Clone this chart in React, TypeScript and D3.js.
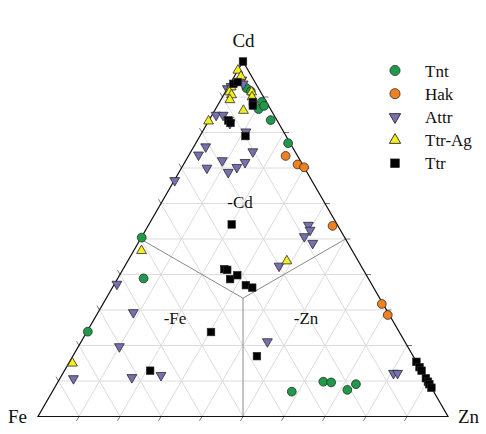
import React from "react";
import * as d3 from "d3";

// Ternary data: [Cd, Zn, Fe] in percent
const tnt: [number, number, number][] = [
  [92.5, 4.6, 2.9], [91.6, 6.1, 2.3], [88.6, 10.3, 1.1], [86.6, 10.5, 2.9],
  [87.5, 11.4, 1.1], [83.5, 15.0, 1.5], [77.0, 22.5, 0.5], [50.4, 0.1, 49.5],
  [38.9, 6.3, 54.8], [23.9, 0.2, 75.9], [7.0, 58.4, 34.6], [9.8, 64.7, 25.5],
  [9.6, 66.7, 23.7], [7.5, 71.7, 20.8], [9.1, 73.0, 17.9],
];
const hak: [number, number, number][] = [
  [73.4, 23.7, 2.9], [71.0, 27.8, 1.2], [70.2, 29.8, 0.0], [53.7, 45.0, 1.3],
  [31.7, 68.0, 0.3], [28.6, 71.0, 0.4],
];
const attr: [number, number, number][] = [
  [94.8, 2.3, 2.9], [93.7, 3.2, 3.1], [92.4, 0.0, 7.6], [93.0, 0.6, 6.4],
  [84.9, 1.0, 14.1], [84.9, 2.7, 12.4], [83.5, 4.7, 11.8], [82.6, 5.5, 11.9],
  [80.2, 10.6, 9.2], [76.0, 2.9, 21.1], [73.7, 2.3, 24.0], [72.1, 8.9, 19.0],
  [74.6, 15.1, 10.3], [71.6, 14.7, 13.7], [70.2, 13.4, 16.4], [68.8, 12.0, 19.2],
  [70.0, 6.2, 23.8], [66.5, 0.1, 33.4], [53.9, 39.0, 7.1], [52.5, 40.1, 7.4],
  [50.7, 39.6, 9.7], [48.8, 42.6, 8.6], [42.4, 37.6, 20.0], [37.3, 0.6, 62.1],
  [29.3, 8.6, 62.1], [19.7, 10.0, 70.3], [10.7, 3.3, 86.0], [11.0, 17.4, 71.6],
  [11.6, 24.2, 64.2], [21.1, 45.4, 33.5], [12.2, 80.6, 7.2], [12.2, 81.6, 6.2],
];
const ttrAg: [number, number, number][] = [
  [97.5, 0.0, 2.5], [95.8, 1.6, 2.6], [92.8, 0.7, 6.5], [91.4, 1.0, 7.6],
  [90.6, 1.9, 7.5], [89.2, 2.2, 8.6], [91.4, 6.4, 2.2], [90.0, 7.2, 2.8],
  [86.2, 7.0, 6.8], [83.2, 0.0, 16.8], [43.8, 38.8, 17.4], [46.7, 1.9, 51.4],
  [15.0, 0.9, 84.1],
];
const ttr: [number, number, number][] = [
  [100, 0, 0], [93.7, 0.8, 5.5], [94.2, 1.6, 4.2], [88.6, 8.1, 3.3],
  [87.6, 8.6, 3.8], [83.4, 4.7, 11.9], [82.7, 5.6, 11.7], [79.0, 11.1, 9.9],
  [54.1, 20.2, 25.7], [41.5, 24.7, 33.8], [41.3, 25.5, 33.2], [39.8, 28.7, 31.5],
  [38.7, 27.5, 33.8], [37.0, 32.2, 30.8], [36.3, 34.1, 29.6], [23.8, 30.3, 45.9],
  [17.0, 44.9, 38.1], [12.9, 20.9, 66.2], [15.4, 84.6, 0.0], [13.9, 86.1, 0.0],
  [12.9, 87.1, 0.0], [10.8, 89.2, 0.0], [9.8, 90.2, 0.0], [9.1, 90.9, 0.0],
  [8.1, 91.9, 0.0],
];

const seriesNames = ["Tnt", "Hak", "Attr", "Ttr-Ag", "Ttr"];
const vertexLabels = ["Cd", "Fe", "Zn"];
const fieldLabels = ["-Cd", "-Fe", "-Zn"];

const W = 486;
const H = 434;

const hx = d3.scaleLinear().domain([0, 100]).range([38, 448]);
const vy = d3.scaleLinear().domain([0, 100]).range([416.5, 61.5]);

function proj(cd: number, zn: number): [number, number] {
  return [hx(zn + cd / 2), vy(cd)];
}

const STROKE = "#2b2b2b";
const FONT = '"Liberation Serif", Tinos, "Times New Roman", Times, "DejaVu Serif", "Noto Serif", serif';

type Shape = "circle" | "down" | "up" | "square";
const styles: { fill: string; shape: Shape }[] = [
  { fill: "#1f9a4a", shape: "circle" },
  { fill: "#f08020", shape: "circle" },
  { fill: "#7570b0", shape: "down" },
  { fill: "#f4ee1e", shape: "up" },
  { fill: "#000000", shape: "square" },
];
const allData = [tnt, hak, attr, ttrAg, ttr];

const triPath = d3.symbol().type(d3.symbolTriangle).size(42)() as string;

function Marker({ x, y, shape, fill, scale = 1 }: { x: number; y: number; shape: Shape; fill: string; scale?: number }) {
  if (shape === "circle")
    return <circle cx={x} cy={y} r={4.4 * scale} fill={fill} stroke={STROKE} strokeWidth={0.8} />;
  if (shape === "square") {
    const s = 7.6 * scale;
    return <rect x={x - s / 2} y={y - s / 2} width={s} height={s} fill={fill} stroke={STROKE} strokeWidth={0.6} />;
  }
  const rot = shape === "down" ? 180 : 0;
  return (
    <path
      d={triPath}
      transform={`translate(${x},${y}) rotate(${rot}) scale(${scale})`}
      fill={fill}
      stroke={STROKE}
      strokeWidth={0.8}
    />
  );
}

export default function App() {
  const ticks = d3.range(10, 100, 10);
  const grid: JSX.Element[] = [];
  ticks.forEach((t, i) => {
    const a1 = proj(t, 0), a2 = proj(t, 100 - t);
    grid.push(<line key={"c" + i} x1={a1[0]} y1={a1[1]} x2={a2[0]} y2={a2[1]} />);
    const b1 = proj(0, t), b2 = proj(100 - t, t);
    grid.push(<line key={"z" + i} x1={b1[0]} y1={b1[1]} x2={b2[0]} y2={b2[1]} />);
    const c1 = proj(100 - t, 0), c2 = proj(0, 100 - t);
    grid.push(<line key={"f" + i} x1={c1[0]} y1={c1[1]} x2={c2[0]} y2={c2[1]} />);
  });

  const tickLen = 5;
  const tickEls: JSX.Element[] = [];
  ticks.forEach((t, i) => {
    const r = proj(t, 100 - t);
    tickEls.push(<line key={"tr" + i} x1={r[0]} y1={r[1]} x2={r[0] + tickLen} y2={r[1]} />);
    const l = proj(100 - t, 0);
    tickEls.push(<line key={"tl" + i} x1={l[0]} y1={l[1]} x2={l[0] - tickLen * 0.5} y2={l[1] - tickLen * 0.866} />);
    const b = proj(0, t);
    tickEls.push(<line key={"tb" + i} x1={b[0]} y1={b[1]} x2={b[0] - tickLen * 0.5} y2={b[1] + tickLen * 0.866} />);
  });

  const cdV = proj(100, 0), feV = proj(0, 0), znV = proj(0, 100);
  const cen = proj(100 / 3, 100 / 3);
  const midL = proj(50, 0), midR = proj(50, 50), midB = proj(0, 50);

  const legendX = 395;
  const legendY0 = 70.5;
  const legendDy = 23.2;

  return (
    <svg width={W} height={H} style={{ position: "absolute", left: 0, top: 0, background: "#fff", fontFamily: FONT }}>
      <g stroke="#dcdcdc" strokeWidth={1}>{grid}</g>
      <g stroke="#8a8a8a" strokeWidth={1}>
        <line x1={cen[0]} y1={cen[1]} x2={midL[0]} y2={midL[1]} />
        <line x1={cen[0]} y1={cen[1]} x2={midR[0]} y2={midR[1]} />
        <line x1={cen[0]} y1={cen[1]} x2={midB[0]} y2={midB[1]} />
      </g>
      <g stroke="#555" strokeWidth={0.8}>{tickEls}</g>
      <path d={`M${feV[0]},${feV[1]}L${znV[0]},${znV[1]}L${cdV[0]},${cdV[1]}Z`} fill="none" stroke="#111" strokeWidth={1.2} />

      <g fill="#111" textAnchor="middle" style={{ fontFamily: FONT, fontSize: 17 }}>
        <text x={240} y={207.5}>{fieldLabels[0]}</text>
        <text x={175} y={323.5}>{fieldLabels[1]}</text>
        <text x={306} y={323.5}>{fieldLabels[2]}</text>
      </g>

      <g fill="#111" style={{ fontFamily: FONT, fontSize: 19 }}>
        <text x={243.5} y={47} textAnchor="middle">{vertexLabels[0]}</text>
        <text x={8} y={422.5}>{vertexLabels[1]}</text>
        <text x={458} y={422.5}>{vertexLabels[2]}</text>
      </g>

      {allData.map((data, si) => (
        <g key={si}>
          {data.map((d, i) => {
            const [x, y] = proj(d[0], d[1]);
            return <Marker key={i} x={x} y={y} shape={styles[si].shape} fill={styles[si].fill} />;
          })}
        </g>
      ))}

      <g fill="#111" style={{ fontFamily: FONT, fontSize: 17 }}>
        {seriesNames.map((name, i) => {
          const y = legendY0 + i * legendDy;
          return (
            <g key={name}>
              <Marker x={legendX} y={y} shape={styles[i].shape} fill={styles[i].fill} scale={1.15} />
              <text x={425} y={y + 6}>{name}</text>
            </g>
          );
        })}
      </g>
    </svg>
  );
}
